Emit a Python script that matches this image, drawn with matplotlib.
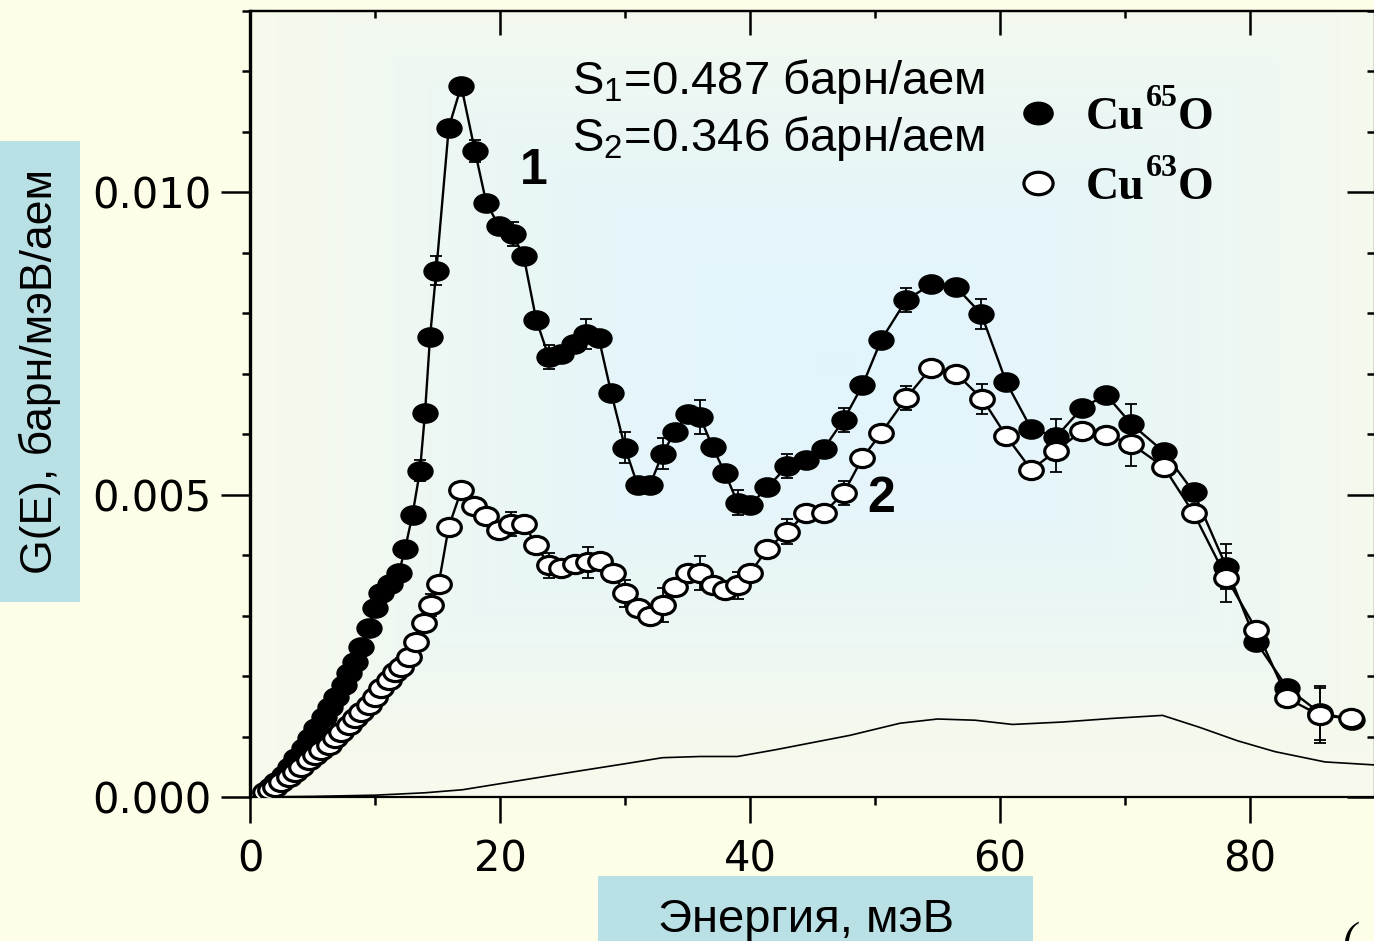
import numpy as np
import matplotlib
matplotlib.use("Agg")
import matplotlib.pyplot as plt
from matplotlib.path import Path
from matplotlib.patches import Rectangle
from matplotlib.lines import Line2D
from matplotlib.ticker import MultipleLocator

# Cu65O (curve 1, filled)
E1 = [1.3, 1.7, 2.1, 2.7, 3.2, 3.7, 4.3, 4.8, 5.3, 5.9,
      6.4, 6.9, 7.5, 7.9, 8.4, 8.9, 9.5, 10.0, 10.5, 11.2,
      11.9, 12.4, 13.0, 13.6, 14.0, 14.4, 14.9, 15.9, 16.9, 18.0,
      18.9, 19.9, 21.0, 21.9, 22.9, 23.9, 24.9, 25.9, 26.9, 27.9,
      28.9, 30.0, 31.0, 32.0, 33.0, 34.0, 35.0, 36.0, 37.0, 38.0,
      39.0, 40.0, 41.4, 43.0, 44.5, 45.9, 47.5, 49.0, 50.5, 52.5,
      54.5, 56.5, 58.5, 60.5, 62.5, 64.5, 66.6, 68.5, 70.5, 73.1,
      75.5, 78.1, 80.5, 83.0, 85.6, 88.2]
G1 = [0.00008, 0.00017, 0.00025, 0.00036, 0.0005, 0.00064, 0.00081, 0.00097, 0.00114, 0.00132,
      0.00149, 0.00165, 0.00185, 0.00205, 0.00223, 0.00248, 0.0028, 0.00312, 0.00337, 0.00353,
      0.0037, 0.0041, 0.00467, 0.0054, 0.00635, 0.0076, 0.0087, 0.01107, 0.01176, 0.01068,
      0.00983, 0.00945, 0.00931, 0.00894, 0.00789, 0.00728, 0.00733, 0.00749, 0.00766, 0.00759,
      0.00668, 0.00578, 0.00516, 0.00516, 0.00568, 0.00604, 0.00634, 0.00629, 0.00579, 0.00536,
      0.00487, 0.00483, 0.00512, 0.00548, 0.00558, 0.00576, 0.00624, 0.00681, 0.00756, 0.00822,
      0.00848, 0.00843, 0.00799, 0.00686, 0.00609, 0.00596, 0.00644, 0.00665, 0.00617, 0.00571,
      0.00504, 0.00381, 0.00256, 0.0018, 0.00139, 0.00128]
E1_ERR = [13.6, 14.9, 18.0, 21.0, 23.9, 26.9, 30.0, 33.0, 36.0, 39.0,
          43.0, 47.5, 52.5, 58.5, 64.5, 70.5, 78.1, 85.6]
DG1 = [0.00018, 0.00024, 0.00018, 0.0002, 0.0002, 0.00025, 0.00025, 0.00026, 0.00028, 0.0002,
       0.0002, 0.0002, 0.0002, 0.00025, 0.00029, 0.00033, 0.00037, 0.00045]

# Cu63O (curve 2, open)
E2 = [1.2, 1.6, 2.0, 2.5, 3.1, 3.6, 4.1, 4.7, 5.2, 5.7,
      6.3, 6.8, 7.3, 7.9, 8.4, 8.9, 9.5, 10.0, 10.5, 11.1,
      11.6, 12.1, 12.7, 13.3, 13.9, 14.5, 15.1, 15.9, 16.9, 17.9,
      18.9, 19.9, 20.9, 21.9, 22.9, 23.9, 24.9, 26.0, 27.0, 28.0,
      29.0, 30.0, 31.0, 32.0, 33.0, 34.0, 35.0, 36.0, 37.0, 38.0,
      39.0, 40.0, 41.4, 43.0, 44.5, 45.9, 47.5, 49.0, 50.5, 52.5,
      54.5, 56.5, 58.6, 60.5, 62.5, 64.5, 66.6, 68.5, 70.5, 73.1,
      75.5, 78.1, 80.5, 83.0, 85.6, 88.1]
G2 = [0.00008, 0.00012, 0.00017, 0.00025, 0.00033, 0.00041, 0.0005, 0.00061, 0.00069, 0.00078,
      0.00086, 0.00097, 0.00107, 0.00119, 0.0013, 0.0014, 0.00152, 0.00165, 0.00181, 0.00193,
      0.00206, 0.00215, 0.00231, 0.00257, 0.00287, 0.00317, 0.00353, 0.00447, 0.00507, 0.00482,
      0.00464, 0.00442, 0.00452, 0.00452, 0.00417, 0.00383, 0.00378, 0.00386, 0.00388, 0.00391,
      0.0037, 0.00337, 0.00312, 0.00299, 0.00318, 0.00348, 0.0037, 0.0037, 0.00351, 0.00342,
      0.0035, 0.0037, 0.00411, 0.00439, 0.0047, 0.0047, 0.00503, 0.00561, 0.00602, 0.0066,
      0.0071, 0.007, 0.00658, 0.00597, 0.00541, 0.00573, 0.00606, 0.00599, 0.00584, 0.00546,
      0.00469, 0.00363, 0.00277, 0.00163, 0.00135, 0.0013]
E2_ERR = [12.1, 14.5, 20.9, 23.9, 27.0, 30.0, 33.0, 36.0, 39.0, 43.0,
          47.5, 52.5, 58.6, 64.5, 70.5, 78.1, 85.6]
DG2 = [0.00015, 0.00018, 0.0002, 0.0002, 0.00025, 0.00022, 0.00028, 0.00028, 0.00022, 0.0002,
       0.0002, 0.0002, 0.00025, 0.00035, 0.00036, 0.0004, 0.00045]

# thin reference curve
E3 = [0, 5, 10, 14, 17, 20, 23, 26, 30, 33, 36, 39, 42, 45, 48, 52, 55, 58,
      61, 65, 69, 73, 76, 79, 82, 86, 90]
G3 = [0, 0.00001, 0.00003, 0.00007, 0.00012, 0.00022, 0.00032, 0.00042, 0.00055,
      0.00065, 0.00067, 0.00067, 0.00078, 0.0009, 0.00102, 0.00122, 0.00129, 0.00127,
      0.0012, 0.00124, 0.0013, 0.00135, 0.00115, 0.00093, 0.00075, 0.00058, 0.00053]

# legend: "Cu" + raised mass number + "O"
ISOTOPES = ["65", "63"]
S_TEXT = [r"S$_{\mathrm{1}}$=0.487 барн/аем", r"S$_{\mathrm{2}}$=0.346 барн/аем"]

plt.rcParams["mathtext.fontset"] = "custom"
plt.rcParams["mathtext.rm"] = "Liberation Sans"

BG = "#FEFEE8"
BOX = "#B9E0E5"

W, H = 1374, 941
fig = plt.figure(figsize=(W / 100, H / 100), dpi=100, facecolor=BG)
ax = fig.add_axes([250 / W, 144 / H, 1125 / W, 786 / H])

# plot-area gradient (light blue centre, creamy edges)
yy, xx = np.mgrid[0:1:200j, 0:1:300j]
d = np.clip(np.maximum(np.abs(xx - 0.52) / 0.5, np.abs(yy - 0.55) / 0.5), 0, 1) ** 1.6
c0 = np.array([0.886, 0.957, 0.992])
c1 = np.array([0.965, 0.980, 0.925])
ax.imshow(c0 + (c1 - c0) * d[..., None], extent=[0, 1, 0, 1], transform=ax.transAxes,
          aspect="auto", origin="lower", zorder=0, interpolation="bilinear")

# ellipse marker (the original is stretched horizontally)
circ = Path.unit_circle()
ELL = Path(circ.vertices * np.array([1.3, 1.0]), circ.codes)

E1a, G1a = np.array(E1), np.array(G1)
E2a, G2a = np.array(E2), np.array(G2)
m1 = np.isin(E1a, E1_ERR)
m2 = np.isin(E2a, E2_ERR)

ax.plot(E3, G3, color="k", lw=1.2, zorder=1)

ax.errorbar(E1a[m1], G1a[m1], yerr=DG1, fmt="none", ecolor="k", elinewidth=1.3,
            capsize=4.5, capthick=1.3, zorder=2)
ax.plot(E1a, G1a, color="k", lw=1.7, marker=ELL, ms=18, mfc="k", mec="k", mew=1, zorder=3)
ax.errorbar(E2a[m2], G2a[m2], yerr=DG2, fmt="none", ecolor="k", elinewidth=1.3,
            capsize=4.5, capthick=1.3, zorder=4)
ax.plot(E2a, G2a, color="k", lw=1.7, marker=ELL, ms=17, mfc="white", mec="k", mew=2.3, zorder=5)

ax.set_xlim(0, 90)
ax.set_ylim(0, 0.013)

for s in ax.spines.values():
    s.set_linewidth(1.6)
ax.spines["left"].set_linewidth(2.4)

ax.xaxis.set_major_locator(MultipleLocator(20))
ax.xaxis.set_minor_locator(MultipleLocator(10))
ax.yaxis.set_major_locator(MultipleLocator(0.005))
ax.yaxis.set_minor_locator(MultipleLocator(0.001))
ax.yaxis.set_major_formatter(matplotlib.ticker.FormatStrFormatter("%.3f"))
ax.tick_params(which="major", direction="out", length=20, width=1.8, labelsize=30,
               colors="k")
ax.tick_params(which="minor", direction="out", length=6, width=1.8)
ax.tick_params(axis="x", which="major", pad=11, length=19)
ax.tick_params(axis="y", which="major", pad=7, length=21)
for lab in ax.get_xticklabels() + ax.get_yticklabels():
    lab.set_fontfamily("DejaVu Sans")

# inward ticks on top / right
top = ax.secondary_xaxis("top")
top.xaxis.set_major_locator(MultipleLocator(20))
top.xaxis.set_minor_locator(MultipleLocator(10))
top.tick_params(which="major", direction="in", length=17, width=1.8, labeltop=False)
top.tick_params(which="minor", direction="in", length=5, width=1.8)
top.spines["top"].set_linewidth(1.6)
right = ax.secondary_yaxis("right")
right.yaxis.set_major_locator(MultipleLocator(0.005))
right.yaxis.set_minor_locator(MultipleLocator(0.001))
right.tick_params(which="major", direction="in", length=20, width=1.8, labelright=False)
right.tick_params(which="minor", direction="in", length=6, width=1.8)

# annotations
ax.text(25.8, 0.01162, S_TEXT[0], fontsize=34, family="Liberation Sans", va="baseline")
ax.text(25.8, 0.01068, S_TEXT[1], fontsize=34, family="Liberation Sans", va="baseline")
ax.text(22.7, 0.01035, "1", fontsize=36, family="Liberation Sans", weight="bold",
        ha="center", va="center")
ax.text(50.5, 0.00493, "2", fontsize=36, family="Liberation Sans", weight="bold",
        ha="center", va="center")

handles = [Line2D([], [], ls="none", marker=ELL, ms=21, mfc="k", mec="k"),
           Line2D([], [], ls="none", marker=ELL, ms=21, mfc="white", mec="k", mew=2.3)]
serif_bold = dict(family="Liberation Serif", weight="bold")
leg = ax.legend(handles, ["Cu", "Cu"], loc="upper left", bbox_to_anchor=(0.68, 0.891),
                frameon=False, prop={**serif_bold, "size": 33},
                handlelength=1.0, handletextpad=0.55, labelspacing=0.61, borderpad=0,
                borderaxespad=0, numpoints=1)
leg.set_zorder(6)
# mass number and "O" are placed after the legend has laid out its texts
for t, iso in zip(leg.get_texts(), ISOTOPES):
    sup = ax.annotate(iso, xy=(1, 1), xycoords=t, xytext=(1, 9), textcoords="offset points",
                      ha="left", va="top", fontsize=23, zorder=7, **serif_bold)
    ax.annotate("O", xy=(1, 0), xycoords=(sup, t), xytext=(0, 0), textcoords="offset points",
                ha="left", va="bottom", fontsize=33, zorder=8, **serif_bold)

# axis-label boxes
fig.patches.append(Rectangle((0, 1 - 602 / H), 80 / W, 461 / H, transform=fig.transFigure,
                             facecolor=BOX, edgecolor="none", zorder=0))
fig.patches.append(Rectangle((598 / W, 0), 435 / W, 65 / H, transform=fig.transFigure,
                             facecolor=BOX, edgecolor="none", zorder=0))
fig.text(52 / W, 1 - 371 / H, "G(E), барн/мэВ/аем", rotation=90, rotation_mode="anchor",
         ha="center", va="baseline", fontsize=32, family="Liberation Sans")
fig.text(806 / W, 1 - 932 / H, "Энергия, мэВ", ha="center", va="baseline",
         fontsize=34, family="Liberation Sans")
fig.text(1343 / W, 1 - 922 / H, "(", ha="left", va="top", fontsize=30,
         family="Liberation Serif", style="italic")

fig.savefig("out.png", dpi=100, facecolor=BG)
